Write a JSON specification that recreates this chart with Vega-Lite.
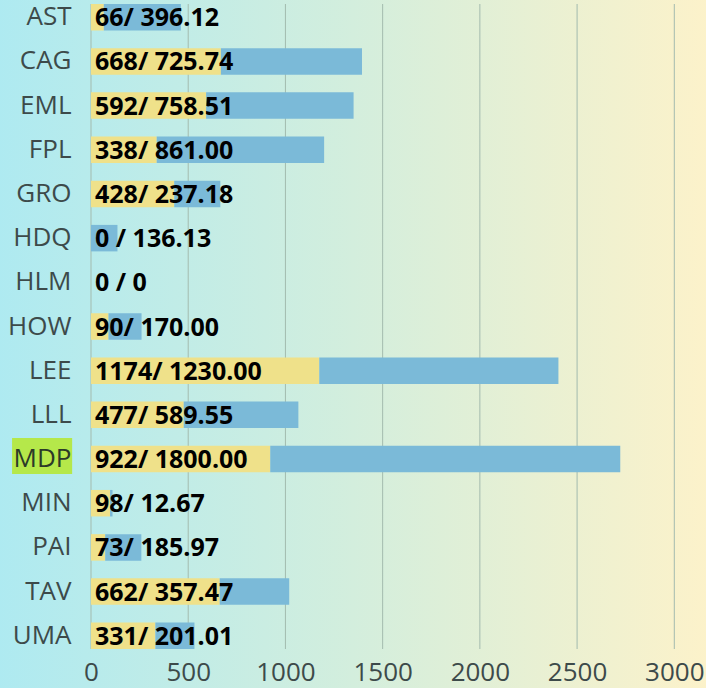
{
  "$schema": "https://vega.github.io/schema/vega-lite/v6.json",
  "width": 615,
  "height": 645,
  "autosize": {"type": "none"},
  "padding": {"left": 91, "top": 4, "right": 0, "bottom": 39},
  "background": "#b0e9f0",
  "config": {"view": {"stroke": null}, "font": "Open Sans"},
  "datasets": {
    "rows": [
      {"code": "AST", "first": 66, "second": 396.12, "label": "66/ 396.12"},
      {"code": "CAG", "first": 668, "second": 725.74, "label": "668/ 725.74"},
      {"code": "EML", "first": 592, "second": 758.51, "label": "592/ 758.51"},
      {"code": "FPL", "first": 338, "second": 861.00, "label": "338/ 861.00"},
      {"code": "GRO", "first": 428, "second": 237.18, "label": "428/ 237.18"},
      {"code": "HDQ", "first": 0, "second": 136.13, "label": "0 / 136.13"},
      {"code": "HLM", "first": 0, "second": 0, "label": "0 / 0"},
      {"code": "HOW", "first": 90, "second": 170.00, "label": "90/ 170.00"},
      {"code": "LEE", "first": 1174, "second": 1230.00, "label": "1174/ 1230.00"},
      {"code": "LLL", "first": 477, "second": 589.55, "label": "477/ 589.55"},
      {"code": "MDP", "first": 922, "second": 1800.00, "label": "922/ 1800.00"},
      {"code": "MIN", "first": 98, "second": 12.67, "label": "98/ 12.67"},
      {"code": "PAI", "first": 73, "second": 185.97, "label": "73/ 185.97"},
      {"code": "TAV", "first": 662, "second": 357.47, "label": "662/ 357.47"},
      {"code": "UMA", "first": 331, "second": 201.01, "label": "331/ 201.01"}
    ],
    "ticks": [{"v": 0}, {"v": 500}, {"v": 1000}, {"v": 1500}, {"v": 2000}, {"v": 2500}, {"v": 3000}]
  },
  "resolve": {"scale": {"y": "independent"}},
  "layer": [
    {
      "data": {"values": [{"k": 1}]},
      "mark": {
        "type": "rect",
        "fill": {
          "gradient": "linear",
          "x1": 0, "x2": 1, "y1": 0, "y2": 0,
          "stops": [
            {"offset": 0, "color": "#aeeaf1"},
            {"offset": 0.5, "color": "#d3eedd"},
            {"offset": 1, "color": "#fcf2ca"}
          ]
        }
      },
      "encoding": {
        "x": {
          "datum": -480, "type": "quantitative",
          "scale": {"domain": [0, 3163], "nice": false, "zero": false},
          "axis": {
            "title": null,
            "values": [0, 500, 1000, 1500, 2000, 2500, 3000],
            "format": "d",
            "ticks": false,
            "domain": false,
            "grid": false,
            "labelFont": "Open Sans",
            "labelFontSize": 26,
            "labelColor": "#3d4a4a",
            "labelPadding": 10,
            "labelFlush": false,
            "zindex": 2
          }
        },
        "x2": {"datum": 3170},
        "y": {"datum": 1.02, "type": "quantitative", "scale": {"domain": [0, 1], "nice": false, "zero": false}, "axis": null},
        "y2": {"datum": -0.08}
      }
    },
    {
      "data": {"name": "ticks"},
      "mark": {"type": "rule", "color": "#a3bbae", "strokeWidth": 1},
      "encoding": {
        "x": {"field": "v", "type": "quantitative", "title": null},
        "y": {"datum": 1, "type": "quantitative", "scale": {"domain": [0, 1], "nice": false, "zero": false}, "axis": null},
        "y2": {"datum": 0}
      }
    },
    {
      "data": {"name": "rows"},
      "encoding": {
        "y": {
          "field": "code",
          "type": "nominal",
          "scale": {"domain": ["AST", "CAG", "EML", "FPL", "GRO", "HDQ", "HLM", "HOW", "LEE", "LLL", "MDP", "MIN", "PAI", "TAV", "UMA"], "paddingInner": 0.4, "paddingOuter": 0},
          "axis": {
            "title": null,
            "ticks": false,
            "domain": false,
            "grid": false,
            "labelFont": "Open Sans",
            "labelFontSize": 26,
            "labelColor": {"condition": {"test": "datum.value === 'MDP'", "value": "#2b3a28"}, "value": "#3d4a4a"},
            "labelPadding": 20,
            "zindex": 2
          }
        }
      },
      "layer": [
        {
          "transform": [{"filter": "datum.code === 'MDP'"}],
          "mark": {"type": "bar", "color": "#b5e84a", "height": 36, "yOffset": -3},
          "encoding": {
            "x": {"datum": -406, "type": "quantitative", "title": null},
            "x2": {"datum": -97}
          }
        },
        {
          "transform": [
            {"fold": ["first", "second"], "as": ["part", "amount"]}
          ],
          "mark": {"type": "bar"},
          "encoding": {
            "x": {"field": "amount", "type": "quantitative", "stack": "zero", "title": null},
            "color": {
              "field": "part",
              "type": "nominal",
              "scale": {"domain": ["first", "second"], "range": ["#efe18a", "#7bbad8"]},
              "legend": null
            },
            "order": {"field": "part", "sort": "ascending"}
          }
        },
        {
          "mark": {"type": "text", "align": "left", "baseline": "middle", "dx": 4, "dy": 1, "font": "Open Sans", "fontSize": 25, "fontWeight": "bold", "color": "#000000"},
          "encoding": {
            "x": {"datum": 0, "type": "quantitative", "title": null},
            "text": {"field": "label"}
          }
        }
      ]
    }
  ]
}
